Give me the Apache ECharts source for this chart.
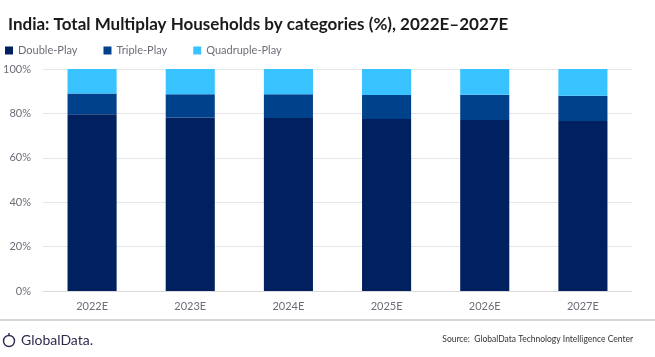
<!DOCTYPE html>
<html><head><meta charset="utf-8">
<script src="https://cdn.jsdelivr.net/npm/echarts@6/dist/echarts.min.js"></script>
<style>html,body{margin:0;padding:0;background:#fff}#c{width:655px;height:357px}</style>
</head><body><div id="c"></div>
<script>
const categories = ['2022E','2023E','2024E','2025E','2026E','2027E'];
const doublePlay = [79.6, 78.1, 77.9, 77.5, 77.0, 76.6];
const triplePlay = [9.4, 10.5, 10.7, 10.8, 11.4, 11.4];
const quadPlay = [11.0, 11.4, 11.4, 11.7, 11.6, 12.0];
const yTicks = [0, 20, 40, 60, 80, 100];

const FONT = 'Lato';
const chart = echarts.init(document.getElementById('c'), null, {renderer:'canvas'});
const mk = (name, data, color) => ({
  name, type:'bar', stack:'a', data, barWidth:'50%',
  itemStyle:{color}, emphasis:{disabled:true}
});
chart.setOption({
  animation:false,
  textStyle:{fontFamily:FONT},
  title:{text:'India: Total Multiplay Households by categories (%), 2022E\u20132027E', left:3, top:11,
    textStyle:{fontFamily:FONT, fontWeight:'bold', fontSize:17, color:'#1a1a1a'}},
  legend:{left:0, top:40, itemWidth:8, itemHeight:8, itemGap:26, icon:'rect',
    textStyle:{fontFamily:FONT, fontSize:11, color:'#6d6d7a'},
    data:['Double-Play','Triple-Play','Quadruple-Play']},
  grid:{left:43, right:23, top:69, bottom:66, containLabel:false},
  xAxis:{type:'category', data:categories,
    axisLine:{lineStyle:{color:'#d9d9d9'}}, axisTick:{show:false},
    axisLabel:{color:'#6d6d7a', fontSize:11, margin:10, fontFamily:FONT}},
  yAxis:{type:'value', min:yTicks[0], max:yTicks[yTicks.length-1], interval:20,
    axisLabel:{formatter:v=>v+'%', color:'#6d6d7a', fontSize:11, margin:12, fontFamily:FONT},
    splitLine:{lineStyle:{color:'#e6e6e6'}}, axisLine:{show:false}, axisTick:{show:false}},
  series:[
    mk('Double-Play', doublePlay, '#002060'),
    mk('Triple-Play', triplePlay, '#00418c'),
    mk('Quadruple-Play', quadPlay, '#38c2ff')
  ],
  graphic:[
    {type:'line', shape:{x1:0,y1:320,x2:655,y2:320}, style:{stroke:'#c8c8c8', lineWidth:1.5}},
    {type:'circle', shape:{cx:9, cy:341, r:5.5}, style:{fill:'none', stroke:'#2e2a4f', lineWidth:1.4}},
    {type:'line', shape:{x1:9,y1:333,x2:9,y2:336}, style:{stroke:'#2e2a4f', lineWidth:1.4}},
    {type:'text', left:21, top:333, style:{text:'GlobalData.', fontFamily:FONT, fontSize:14, fill:'#2e2a4f'}},
    {type:'text', right:22, top:335, style:{text:'Source:  GlobalData Technology Intelligence Center', fontFamily:FONT, fontSize:8.5, fill:'#333'}}
  ]
});
</script></body></html>
